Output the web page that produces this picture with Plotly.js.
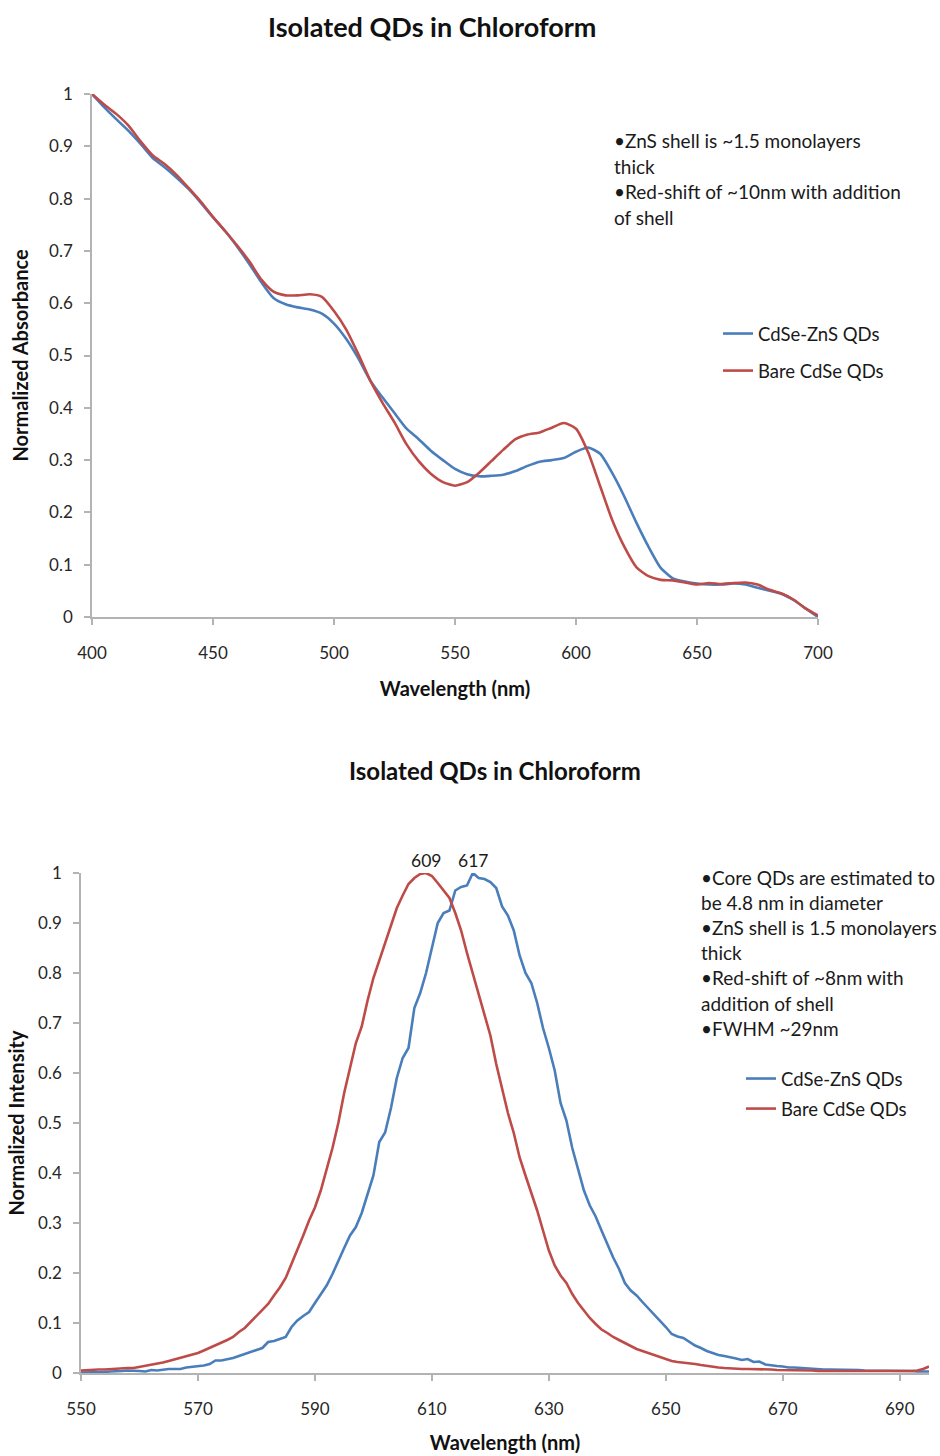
<!DOCTYPE html>
<html>
<head>
<meta charset="utf-8">
<script src="https://cdn.plot.ly/plotly-3.0.1.min.js"></script>
<style>
  html, body { margin: 0; padding: 0; background: #ffffff; }
  #chart { width: 940px; height: 1456px; }
</style>
</head>
<body>
<div id="chart"></div>
<script>
// ---- Absorbance spectra (upper panel) ----
const absWavelength = [400,405,410,415,420,425,430,435,440,445,450,455,460,465,470,475,480,485,490,495,
  500,505,510,515,520,525,530,535,540,545,550,555,560,565,570,575,580,585,590,595,
  600,605,610,615,620,625,630,635,640,645,650,655,660,665,670,675,680,685,690,695,700];
const absCoreShell = [1.000,0.975,0.952,0.930,0.905,0.878,0.860,0.840,0.818,0.792,0.764,0.738,0.708,0.675,0.640,0.610,0.598,0.592,0.588,0.580,
  0.561,0.532,0.495,0.452,0.420,0.390,0.360,0.340,0.318,0.300,0.283,0.273,0.269,0.270,0.272,0.279,0.289,0.297,0.300,0.304,
  0.316,0.324,0.312,0.275,0.230,0.180,0.134,0.094,0.074,0.068,0.064,0.062,0.062,0.064,0.062,0.056,0.050,0.044,0.032,0.016,0.000];
const absBare = [1.000,0.980,0.962,0.940,0.910,0.883,0.866,0.845,0.820,0.794,0.765,0.738,0.710,0.680,0.645,0.622,0.615,0.615,0.617,0.612,
  0.585,0.550,0.503,0.452,0.410,0.372,0.330,0.298,0.274,0.258,0.251,0.258,0.276,0.298,0.320,0.340,0.349,0.353,0.362,0.371,
  0.360,0.315,0.250,0.185,0.134,0.095,0.078,0.071,0.070,0.066,0.062,0.065,0.063,0.065,0.066,0.062,0.052,0.045,0.033,0.016,0.003];

// ---- Photoluminescence spectra (lower panel) ----
const plWavelength = [];
for (let w = 550; w <= 695; w++) plWavelength.push(w);
const plCoreShell = [
  0.001,0.001,0.002,0.002,0.002,0.003,0.003,0.004,0.005,0.005,   // 550-559
  0.004,0.003,0.006,0.005,0.007,0.008,0.008,0.008,0.011,0.012,   // 560-569
  0.013,0.015,0.018,0.025,0.025,0.027,0.030,0.034,0.038,0.043,   // 570-579
  0.046,0.050,0.062,0.064,0.068,0.072,0.092,0.105,0.114,0.122,   // 580-589
  0.140,0.158,0.175,0.198,0.225,0.250,0.275,0.292,0.320,0.360,   // 590-599
  0.395,0.462,0.481,0.530,0.590,0.630,0.650,0.730,0.760,0.800,   // 600-609
  0.850,0.900,0.920,0.925,0.965,0.972,0.975,1.000,0.990,0.988,   // 610-619
  0.982,0.970,0.933,0.915,0.885,0.835,0.800,0.780,0.740,0.690,   // 620-629
  0.650,0.605,0.540,0.505,0.450,0.410,0.365,0.335,0.313,0.285,   // 630-639
  0.258,0.231,0.208,0.180,0.165,0.155,0.142,0.130,0.118,0.106,   // 640-649
  0.092,0.078,0.073,0.070,0.062,0.055,0.050,0.044,0.040,0.036,   // 650-659
  0.034,0.032,0.029,0.026,0.028,0.022,0.023,0.017,0.015,0.014,   // 660-669
  0.013,0.011,0.011,0.010,0.009,0.008,0.008,0.007,0.007,0.007,   // 670-679
  0.006,0.006,0.006,0.006,0.005,0.005,0.005,0.005,0.004,0.004,   // 680-689
  0.005,0.004,0.004,0.003,0.003,0.003];                          // 690-695
const plBare = [
  0.005,0.006,0.006,0.007,0.007,0.008,0.008,0.009,0.010,0.010,   // 550-559
  0.012,0.014,0.016,0.018,0.021,0.024,0.027,0.030,0.033,0.037,   // 560-569
  0.040,0.045,0.050,0.055,0.060,0.066,0.072,0.082,0.090,0.102,   // 570-579
  0.112,0.124,0.138,0.155,0.171,0.190,0.218,0.245,0.275,0.305,   // 580-589
  0.331,0.365,0.405,0.450,0.500,0.560,0.610,0.660,0.693,0.745,   // 590-599
  0.790,0.825,0.860,0.895,0.930,0.955,0.978,0.990,0.998,1.000,   // 600-609
  0.994,0.980,0.965,0.950,0.920,0.885,0.840,0.800,0.760,0.720,   // 610-619
  0.675,0.618,0.570,0.520,0.480,0.431,0.395,0.360,0.325,0.285,   // 620-629
  0.245,0.215,0.195,0.180,0.158,0.140,0.124,0.110,0.098,0.087,   // 630-639
  0.080,0.072,0.066,0.060,0.053,0.048,0.044,0.040,0.036,0.032,   // 640-649
  0.027,0.024,0.022,0.021,0.019,0.018,0.016,0.014,0.012,0.011,   // 650-659
  0.010,0.009,0.009,0.008,0.008,0.008,0.007,0.007,0.007,0.006,   // 660-669
  0.006,0.006,0.005,0.005,0.005,0.005,0.004,0.004,0.004,0.004,   // 670-679
  0.004,0.003,0.003,0.003,0.003,0.003,0.003,0.003,0.003,0.003,   // 680-689
  0.003,0.004,0.004,0.005,0.008,0.013];                          // 690-695

// Peak wavelengths labelled on the emission curves
const peakBare = 609;
const peakCoreShell = 617;

const seriesNames = ['CdSe-ZnS QDs', 'Bare CdSe QDs'];
const chartTitle = 'Isolated QDs in Chloroform';
const absNotes = ['•ZnS shell is ~1.5 monolayers', 'thick', '•Red-shift of ~10nm with addition', 'of shell'];
const plNotes = ['•Core QDs are estimated to', 'be 4.8 nm in diameter', '•ZnS shell is 1.5 monolayers',
  'thick', '•Red-shift of ~8nm with', 'addition of shell', '•FWHM ~29nm'];

const BLUE = '#4a7ebb';
const RED = '#be4b48';
const FONT = 'Lato, "Open Sans", sans-serif';
const AXIS_GREY = '#b3b3b3';
const W = 940, H = 1456;
const py = p => 1 - p / H;   // pixel row -> paper y
const px = p => p / W;       // pixel column -> paper x

function trace(x, y, name, color, xa, ya, legendId) {
  return {
    x: x, y: y, name: name, type: 'scatter', mode: 'lines',
    line: { color: color, width: 2.6, shape: 'spline', smoothing: 0.6 },
    xaxis: xa, yaxis: ya, legend: legendId, legendgroup: legendId + name,
    hoverinfo: 'x+y'
  };
}

const data = [
  trace(absWavelength, absCoreShell, seriesNames[0], BLUE, 'x', 'y', 'legend'),
  trace(absWavelength, absBare, seriesNames[1], RED, 'x', 'y', 'legend'),
  trace(plWavelength, plCoreShell, seriesNames[0], BLUE, 'x2', 'y2', 'legend2'),
  trace(plWavelength, plBare, seriesNames[1], RED, 'x2', 'y2', 'legend2')
];
data[2].line.shape = 'linear';
data[3].line.shape = 'linear';

const axisStyle = {
  showline: true, linecolor: AXIS_GREY, linewidth: 1.5,
  ticks: 'outside', ticklen: 6, tickcolor: AXIS_GREY, tickwidth: 1.5,
  showgrid: false, zeroline: false,
  tickfont: { family: FONT, size: 17, color: '#262626' }
};
const titleFont = { family: FONT, size: 20, color: '#111111', weight: 'bold' };

const annotations = [];
function addText(text, xPix, yPix, size, extra) {
  annotations.push(Object.assign({
    text: text, xref: 'paper', yref: 'paper', x: px(xPix), y: py(yPix),
    xanchor: 'left', yanchor: 'middle', showarrow: false,
    font: { family: FONT, size: size, color: '#1a1a1a' }
  }, extra || {}));
}
// chart titles
addText(chartTitle, 432, 26, 27, { xanchor: 'center', font: { family: FONT, size: 27, color: '#111', weight: 'bold' } });
addText(chartTitle, 495, 770, 24, { xanchor: 'center', font: { family: FONT, size: 24, color: '#111', weight: 'bold' } });
// explanatory notes
absNotes.forEach((t, i) => addText(t, 612, 141 + i * 25.5, 19));
plNotes.forEach((t, i) => addText(t, 699, 877 + i * 25.2, 19));
// peak labels on the emission curves
annotations.push({ text: String(peakBare), x: peakBare, y: 1, xref: 'x2', yref: 'y2',
  xanchor: 'center', yanchor: 'bottom', yshift: 0, showarrow: false,
  font: { family: FONT, size: 17.5, color: '#1a1a1a' } });
annotations.push({ text: String(peakCoreShell), x: peakCoreShell, y: 1, xref: 'x2', yref: 'y2',
  xanchor: 'center', yanchor: 'bottom', yshift: 0, showarrow: false,
  font: { family: FONT, size: 17.5, color: '#1a1a1a' } });

const layout = {
  width: W, height: H,
  margin: { l: 0, r: 0, t: 0, b: 0 },
  paper_bgcolor: '#ffffff', plot_bgcolor: '#ffffff',
  font: { family: FONT, color: '#1a1a1a' },
  showlegend: true,
  xaxis: Object.assign({}, axisStyle, {
    domain: [px(92), px(818)], range: [400, 700], tick0: 400, dtick: 50, anchor: 'y',
    ticklabelstandoff: 14,
    title: { text: 'Wavelength (nm)', font: titleFont, standoff: 20 }
  }),
  yaxis: Object.assign({}, axisStyle, {
    domain: [py(617), py(94)], range: [0, 1], dtick: 0.1, anchor: 'x',
    ticklabelstandoff: 8,
    title: { text: 'Normalized Absorbance', font: titleFont, standoff: 15 }
  }),
  xaxis2: Object.assign({}, axisStyle, {
    domain: [px(81), px(929)], range: [550, 695], tick0: 550, dtick: 20, anchor: 'y2',
    ticklabelstandoff: 14,
    title: { text: 'Wavelength (nm)', font: titleFont, standoff: 18 }
  }),
  yaxis2: Object.assign({}, axisStyle, {
    domain: [py(1373), py(873)], range: [0, 1], dtick: 0.1, anchor: 'x2',
    ticklabelstandoff: 8,
    title: { text: 'Normalized Intensity', font: titleFont, standoff: 8 }
  }),
  legend: {
    x: px(718), y: py(315), xanchor: 'left', yanchor: 'top',
    bgcolor: 'rgba(0,0,0,0)', borderwidth: 0, traceorder: 'grouped', tracegroupgap: 10,
    itemwidth: 30, font: { family: FONT, size: 18.5, color: '#1a1a1a' }
  },
  legend2: {
    x: px(741), y: py(1060), xanchor: 'left', yanchor: 'top',
    bgcolor: 'rgba(0,0,0,0)', borderwidth: 0, traceorder: 'grouped', tracegroupgap: 3,
    itemwidth: 30, font: { family: FONT, size: 18.5, color: '#1a1a1a' }
  },
  annotations: annotations
};

Plotly.newPlot('chart', data, layout, { displayModeBar: false, responsive: false });
</script>
</body>
</html>
